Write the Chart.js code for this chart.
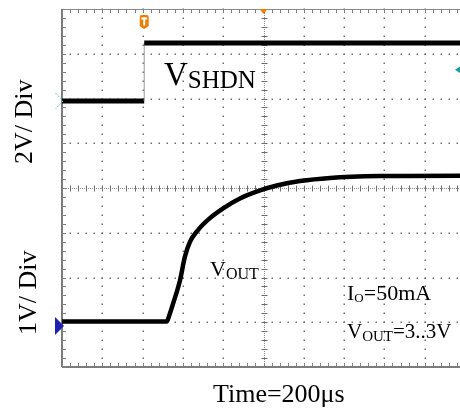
<!DOCTYPE html>
<html>
<head>
<meta charset="utf-8">
<script src="https://cdn.jsdelivr.net/npm/chart.js@4/dist/chart.umd.min.js"></script>
<style>
  html, body { margin: 0; padding: 0; background: #fff; width: 460px; height: 409px; overflow: hidden; }
  #wrap { position: relative; width: 460px; height: 409px; overflow: hidden; }
  canvas { position: absolute; left: 0; top: 0; }
  .lbl { position: absolute; font-family: "Liberation Serif", "Times New Roman", serif; color: #000; white-space: nowrap; }
  .sub { line-height: 0; }
  .rot { transform-origin: 0 0; transform: rotate(-90deg); }
</style>
</head>
<body>
<div id="wrap">
  <canvas id="c" width="470" height="409"></canvas>
  <div class="lbl rot" style="left:11px;top:164px;font-size:26px;line-height:26px;">2V/ Div</div>
  <div class="lbl rot" style="left:15px;top:335px;font-size:26px;line-height:26px;">1V/ Div</div>
  <div class="lbl" style="left:164px;top:58px;font-size:33px;line-height:33px;">V<span class="sub" style="font-size:25px;vertical-align:-2.5px;">SHDN</span></div>
  <div class="lbl" style="left:210px;top:257.5px;font-size:22px;line-height:22px;">V<span class="sub" style="font-size:16px;vertical-align:-2.5px;">OUT</span></div>
  <div class="lbl" style="left:347px;top:281.5px;font-size:22px;line-height:22px;">I<span class="sub" style="font-size:13px;vertical-align:-2px;">O</span>=50mA</div>
  <div class="lbl" style="left:347px;top:321.4px;font-size:21px;line-height:21px;">V<span class="sub" style="font-size:15px;vertical-align:-2.5px;">OUT</span>=3..3V</div>
  <div class="lbl" style="left:213px;top:380.7px;font-size:26px;line-height:26px;">Time=200μs</div>
</div>
<script>
// ---- data ----
const usPerDiv = 200;                 // time base, µs per division
const xDivs = 10, yDivs = 8;
const triggerTimeUs = 408;            // position of the "T" marker
const triggerLevelV = 1.39;           // trigger level on the SHDN channel
const shdnTimeUs = [0, 408, 408, 2000];
const shdnVolts  = [0, 0, 2.59, 2.59];
const voutTimeUs = [0, 520, 531, 552, 586, 610, 635, 676, 734, 800, 883, 983, 1066, 1181, 1330, 1578, 1975, 2000];
const voutVolts  = [0.1, 0.1, 0.22, 0.51, 1.03, 1.55, 1.88, 2.15, 2.41, 2.63, 2.85, 3.03, 3.14, 3.24, 3.31, 3.35, 3.36, 3.36];
// channel ranges (2 V/div and 1 V/div, ground offsets)
const shdnRange = [-11.89, 4.11];
const voutRange = [-0.916, 7.084];

const toPts = (xs, ys) => xs.map((x, i) => ({ x, y: ys[i] }));

const gridPlugin = {
  id: 'scopeGrid',
  beforeDatasetsDraw(chart) {
    const { ctx, chartArea: a, scales } = chart;
    const x = scales.x, yd = scales.yDiv;
    ctx.save();
    const minorX = [], minorY = [];
    for (let m = 0; m <= xDivs * 5; m++) minorX.push(Math.round(x.getPixelForValue(m * usPerDiv / 5)));
    for (let m = 0; m <= yDivs * 5; m++) minorY.push(Math.round(yd.getPixelForValue(m / 5)));
    // dotted major lines
    ctx.fillStyle = '#707070';
    for (let i = 1; i < xDivs; i++) {
      if (i === xDivs / 2) continue;
      const px = Math.round(x.getPixelForValue(i * usPerDiv));
      minorY.forEach(py => ctx.fillRect(px - 0.5, py - 0.5, 1.5, 1.5));
    }
    for (let j = 1; j < yDivs; j++) {
      if (j === yDivs / 2) continue;
      const py = Math.round(yd.getPixelForValue(j));
      minorX.forEach(px => ctx.fillRect(px - 0.5, py - 0.5, 1.5, 1.5));
    }
    // center cross with ticks
    const cx = Math.round(x.getPixelForValue(xDivs / 2 * usPerDiv)) + 0.5;
    const cy = Math.round(yd.getPixelForValue(yDivs / 2)) + 0.5;
    ctx.strokeStyle = '#8c8c8c';
    ctx.lineWidth = 1;
    ctx.setLineDash([1, 1]);
    ctx.beginPath();
    ctx.moveTo(cx, a.top); ctx.lineTo(cx, a.bottom);
    ctx.moveTo(a.left, cy); ctx.lineTo(a.right, cy);
    ctx.stroke();
    ctx.setLineDash([]);
    ctx.strokeStyle = '#6e6e6e';
    ctx.beginPath();
    minorY.forEach(py => { ctx.moveTo(cx - 3, py + 0.5); ctx.lineTo(cx + 3, py + 0.5); });
    minorX.forEach(px => { ctx.moveTo(px + 0.5, cy - 3); ctx.lineTo(px + 0.5, cy + 3); });
    ctx.stroke();
    // borders
    ctx.strokeStyle = '#8a8a8a';
    ctx.lineWidth = 1;
    ctx.beginPath();
    ctx.moveTo(a.left, a.top + 0.5); ctx.lineTo(a.right, a.top + 0.5);
    ctx.stroke();
    ctx.lineWidth = 2;
    ctx.strokeStyle = '#7c7c7c';
    ctx.beginPath();
    ctx.moveTo(a.left, a.top); ctx.lineTo(a.left, a.bottom);
    ctx.moveTo(a.left, a.bottom); ctx.lineTo(a.right, a.bottom);
    ctx.stroke();
    ctx.lineWidth = 1;
    ctx.strokeStyle = '#808080';
    ctx.beginPath();
    minorY.forEach(py => { ctx.moveTo(a.left, py + 0.5); ctx.lineTo(a.left + 4, py + 0.5); });
    minorX.forEach(px => {
      ctx.moveTo(px + 0.5, a.bottom); ctx.lineTo(px + 0.5, a.bottom - 4);
      ctx.moveTo(px + 0.5, a.top); ctx.lineTo(px + 0.5, a.top + 4);
    });
    ctx.stroke();
    ctx.restore();
  },
  afterDatasetsDraw(chart) {
    const { ctx, chartArea: a, scales } = chart;
    const x = scales.x;
    ctx.save();
    // trigger position badge
    const tx = x.getPixelForValue(triggerTimeUs);
    ctx.fillStyle = '#f07c00';
    ctx.beginPath();
    ctx.moveTo(tx - 4.5, 17);
    ctx.quadraticCurveTo(tx - 4.5, 15, tx - 2.5, 15);
    ctx.lineTo(tx + 2.5, 15);
    ctx.quadraticCurveTo(tx + 4.5, 15, tx + 4.5, 17);
    ctx.lineTo(tx + 4.5, 26);
    ctx.lineTo(tx, 29);
    ctx.lineTo(tx - 4.5, 26);
    ctx.closePath();
    ctx.fill();
    ctx.fillStyle = '#fff';
    ctx.fillRect(tx - 3, 17.5, 6, 2);
    ctx.fillRect(tx - 1, 17.5, 2, 8);
    // top center marker
    const mx = x.getPixelForValue(xDivs / 2 * usPerDiv);
    ctx.fillStyle = '#f07c00';
    ctx.beginPath();
    ctx.moveTo(mx - 4, a.top); ctx.lineTo(mx + 4, a.top); ctx.lineTo(mx, a.top + 5);
    ctx.closePath(); ctx.fill();
    // trigger level marker (right)
    const ly = scales.yShdn.getPixelForValue(triggerLevelV);
    ctx.fillStyle = '#1c9c9c';
    ctx.beginPath();
    ctx.moveTo(455, ly); ctx.lineTo(461, ly - 4); ctx.lineTo(461, ly + 4);
    ctx.closePath(); ctx.fill();
    // SHDN ground marker (hollow, dashed)
    const g1 = scales.yShdn.getPixelForValue(0);
    ctx.strokeStyle = '#5cc6c6';
    ctx.lineWidth = 1;
    ctx.setLineDash([2, 1.5]);
    ctx.beginPath();
    ctx.moveTo(55.5, g1 - 8); ctx.lineTo(63, g1); ctx.lineTo(55.5, g1 + 8);
    ctx.stroke();
    ctx.setLineDash([]);
    // VOUT ground marker
    const g2 = scales.yOut.getPixelForValue(0);
    ctx.fillStyle = '#1e22b0';
    ctx.beginPath();
    ctx.moveTo(55, g2 - 9); ctx.lineTo(64, g2); ctx.lineTo(55, g2 + 9);
    ctx.closePath(); ctx.fill();
    ctx.restore();
  }
};

new Chart(document.getElementById('c'), {
  type: 'line',
  data: {
    datasets: [
      {
        label: 'VSHDN',
        data: toPts(shdnTimeUs, shdnVolts),
        xAxisID: 'x', yAxisID: 'yShdn',
        borderColor: '#000', borderWidth: 5, pointRadius: 0, tension: 0,
        segment: {
          borderWidth: c => c.p0.parsed.x === c.p1.parsed.x ? 1 : undefined,
          borderColor: c => c.p0.parsed.x === c.p1.parsed.x ? '#9a9a9a' : undefined
        }
      },
      {
        label: 'VOUT',
        data: toPts(voutTimeUs, voutVolts),
        xAxisID: 'x', yAxisID: 'yOut',
        borderColor: '#000', borderWidth: 4.5, pointRadius: 0,
        cubicInterpolationMode: 'monotone'
      }
    ]
  },
  options: {
    responsive: false,
    animation: false,
    devicePixelRatio: 1,
    layout: { padding: { left: 62, top: 9, right: 5, bottom: 42 } },
    plugins: { legend: { display: false }, tooltip: { enabled: false } },
    scales: {
      x: { type: 'linear', min: 0, max: xDivs * usPerDiv, display: false },
      yDiv: { type: 'linear', min: 0, max: yDivs, display: false },
      yShdn: { type: 'linear', min: shdnRange[0], max: shdnRange[1], display: false },
      yOut: { type: 'linear', min: voutRange[0], max: voutRange[1], display: false }
    }
  },
  plugins: [gridPlugin]
});
</script>
</body>
</html>
